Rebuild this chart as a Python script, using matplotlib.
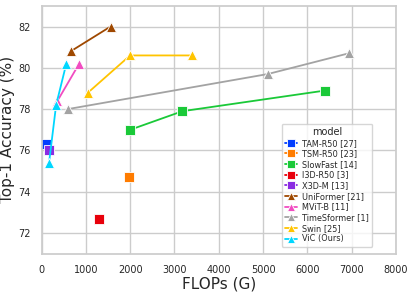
import matplotlib
matplotlib.use('Agg')
import matplotlib.pyplot as plt
import seaborn as sns

models = ['TAM-R50 [27]', 'TSM-R50 [23]', 'SlowFast [14]', 'I3D-R50 [3]', 'X3D-M [13]',
          'UniFormer [21]', 'MViT-B [11]', 'TimeSformer [1]', 'Swin [25]', 'ViC (Ours)']
flops = [
    [100],
    [1980],
    [2000, 3180, 6400],
    [1300],
    [170],
    [660, 1560],
    [360, 850],
    [590, 5110, 6930],
    [1050, 2000, 3390],
    [170, 330, 560],
]
acc = [
    [76.3],
    [74.7],
    [77.0, 77.9, 78.9],
    [72.7],
    [76.0],
    [80.8, 82.0],
    [78.4, 80.2],
    [78.0, 79.7, 80.7],
    [78.8, 80.6, 80.6],
    [75.4, 78.2, 80.2],
]
markers = ['s'] * 5 + ['^'] * 5

sns.set_theme(style='whitegrid')
plt.rcParams['font.family'] = ['DejaVu Sans']
colors = sns.color_palette('bright', 10)

fig = plt.figure(figsize=(4.15, 2.93), dpi=100)
ax = fig.add_axes([0.1, 0.134, 0.854, 0.846])

for i, m in enumerate(models):
    ax.plot(flops[i], acc[i], color=colors[i], marker=markers[i], markersize=7,
            markeredgecolor='white', markeredgewidth=0.6, linewidth=1.3, label=m)

ax.set_xlim(0, 8000)
ax.set_ylim(71, 83)
ax.set_xticks(range(0, 8001, 1000))
ax.set_yticks([72, 74, 76, 78, 80, 82])
ax.tick_params(labelsize=7, pad=2)
ax.set_xlabel('FLOPs (G)', fontsize=11, labelpad=1)
ax.set_ylabel('Top-1 Accuracy (%)', fontsize=11, labelpad=2)
for s in ax.spines.values():
    s.set_color('#cccccc')

leg = ax.legend(title='model', loc='lower right', fontsize=5.9, title_fontsize=7,
                markerscale=0.75, handlelength=1.5, handletextpad=0.6,
                labelspacing=0.2, borderpad=0.4,
                bbox_to_anchor=(0.945, 0.012))

fig.savefig('out.png', dpi=100)
